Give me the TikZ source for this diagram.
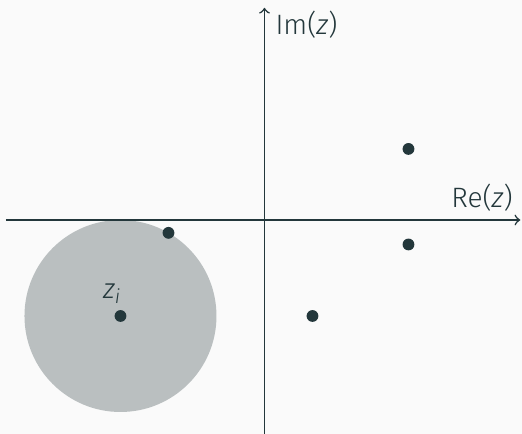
\documentclass[tikz,border=0pt]{standalone}
\usepackage{fontspec}
\setmainfont{Fira Sans}[UprightFont=* Light, ItalicFont=* Light Italic]
\usepackage{tikz}
\usepackage{xcolor}

\definecolor{mDark}{HTML}{23373B}
\definecolor{mBack}{HTML}{FAFAFA}
\definecolor{mDisc}{RGB}{186,191,192}

\begin{document}
\begin{tikzpicture}[
  x=0.65cm, y=0.65cm,
  axis/.style={draw=mDark,line width=0.6pt,->},
  pole/.style={circle,fill=mDark,inner sep=0pt,minimum size=0.16cm},
  lbl/.style={text=mDark,inner sep=0pt,font=\fontsize{10.8pt}{13pt}\selectfont}
]
  \fill[mBack] (-5.51,-4.458) rectangle (5.365,4.583);
  \useasboundingbox (-5.51,-4.458) rectangle (5.365,4.583);
  \fill[mDisc] (-3,-2) circle (2);
  \coordinate (xl) at (-5.39,0);
  \coordinate (xr) at (5.33,0);
  \coordinate (yb) at (0,-4.5);
  \coordinate (yt) at (0,4.42);
  \draw[axis] (xl) -- (xr);
  \draw[axis] (yb) -- (yt);
  \node[lbl,anchor=east] (relbl) at (5.18,0.46) {Re(\textit{z})};
  \node[lbl,anchor=west] (imlbl) at (0.22,4.06) {Im(\textit{z})};
  \node[pole] (zi) at (-3,-2) {};
  \node[pole] (p1) at (-2,-0.268) {};
  \node[pole] (p2) at (3,1.48) {};
  \node[pole] (p3) at (3,-0.51) {};
  \node[pole] (p4) at (1,-2) {};
  \node[lbl] (zilbl) at (-3.17,-1.54) {\textit{z}\textsubscript{\textit{i}}};
\end{tikzpicture}
\end{document}
